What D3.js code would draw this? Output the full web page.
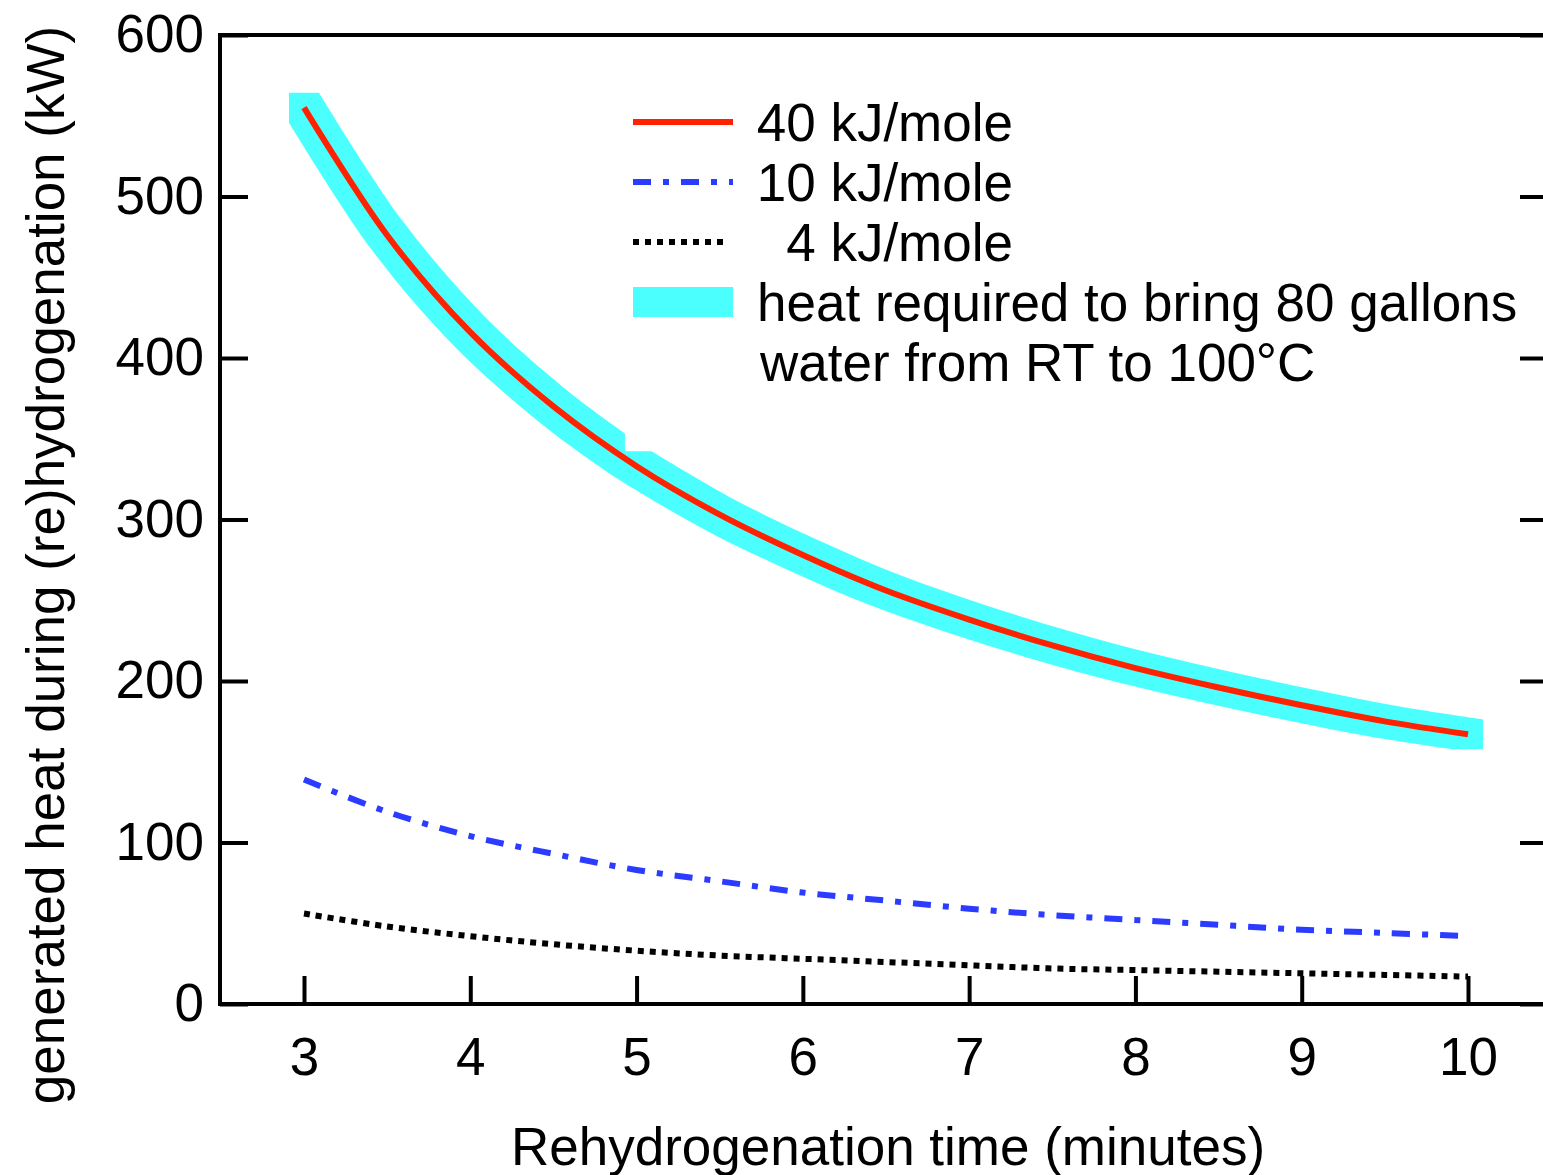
<!DOCTYPE html>
<html>
<head>
<meta charset="utf-8">
<script src="https://cdn.jsdelivr.net/npm/d3@7"></script>
<style>
  body { margin: 0; background: #fff; }
  svg { display: block; font-family: "Liberation Sans", Arial, sans-serif; }
</style>
</head>
<body>
<div id="chart"></div>
<script>
// time (minutes) and generated heat (kW)
const times = [3, 3.5, 4, 4.5, 5, 5.5, 6, 6.5, 7, 7.5, 8, 8.5, 9, 9.5, 10];
const heat40 = [555, 476, 416, 370, 333, 303, 278, 256, 238, 222, 208, 196, 185, 175, 167];
const heat10 = [139, 119, 104, 93, 83, 76, 69, 64, 59, 55, 52, 49, 46, 44, 42];
const heat4 = [56, 48, 42, 37, 33, 30, 28, 26, 24, 22, 21, 20, 19, 18, 17];

// the water-heating band, in two pieces (notch on top near 5 min)
const waterTimesA = [3, 3.5, 4, 4.5, 4.84];
const waterHeatA = [555, 476, 416, 370, 344];
const waterTimesB = [5, 5.5, 6, 6.5, 7, 7.5, 8, 8.5, 9, 9.5, 10];
const waterHeatB = [333, 303, 278, 256, 238, 222, 208, 196, 185, 175, 167];

const xTicks = [3, 4, 5, 6, 7, 8, 9, 10];
const yTicks = [0, 100, 200, 300, 400, 500, 600];

const legendLabels = ["40 kJ/mole", "10 kJ/mole", "4 kJ/mole", "heat required to bring 80 gallons", "water from RT to 100°C"];

const width = 1543, height = 1175;
const mLeft = 220, mRight = 1548, mTop = 35, mBottom = 1004;
const fontSize = "53px";

const svg = d3.select("#chart").append("svg")
    .attr("width", width)
    .attr("height", height);

const x = d3.scaleLinear().domain([3, 10]).range([304, 1468]);
const y = d3.scaleLinear().domain([0, 600]).range([mBottom, mTop]);

const line = d3.line()
    .x(d => x(d[0]))
    .y(d => y(d[1]))
    .curve(d3.curveCatmullRom);

// band = 30x30 square pen dragged along the curve
const h = 15;
const edge = d3.line().curve(d3.curveCatmullRom);
function toPx(ts, vs){ return ts.map((t, i) => [x(t), y(vs[i])]); }
function shift(pts, dx, dy){ return pts.map(p => [p[0] + dx, p[1] + dy]); }

function bandPath(){
    const a = toPx(waterTimesA, waterHeatA);
    const b = toPx(waterTimesB, waterHeatB);
    const all = a.concat(b);
    const a0 = a[0], aN = a[a.length - 1], b0 = b[0], bN = b[b.length - 1];
    return `M${a0[0] - h},${a0[1] - h}` +
        "L" + edge(shift(a, h, -h)).slice(1) +
        `L${aN[0] + h},${b0[1] - h}` +
        "L" + edge(shift(b, h, -h)).slice(1) +
        `L${bN[0] + h},${bN[1] + h}` +
        "L" + edge(shift(all, -h, h).reverse()).slice(1) +
        `L${a0[0] - h},${a0[1] + h}Z`;
}

svg.append("path").attr("d", bandPath()).attr("fill", "#4cffff");

svg.append("path")
    .datum(times.map((t, i) => [t, heat40[i]]))
    .attr("d", line)
    .attr("fill", "none")
    .attr("stroke", "#ff2200")
    .attr("stroke-width", 6);

svg.append("path")
    .datum(times.map((t, i) => [t, heat10[i]]))
    .attr("d", line)
    .attr("fill", "none")
    .attr("stroke", "#2b3bff")
    .attr("stroke-width", 6)
    .attr("stroke-dasharray", "18,12,6,12");

svg.append("path")
    .datum(times.map((t, i) => [t, heat4[i]]))
    .attr("d", line)
    .attr("fill", "none")
    .attr("stroke", "#000")
    .attr("stroke-width", 6)
    .attr("stroke-dasharray", "6,6");

// axes
const xAxis = svg.append("g")
    .attr("transform", `translate(0,${mBottom})`)
    .call(d3.axisBottom(x).tickValues(xTicks).tickFormat(d3.format("d"))
        .tickSize(-28).tickSizeOuter(0).tickPadding(33));

const yAxis = svg.append("g")
    .attr("transform", `translate(${mLeft},0)`)
    .call(d3.axisLeft(y).tickValues(yTicks).tickSize(-28).tickSizeOuter(0).tickPadding(16));

const yAxisR = svg.append("g")
    .attr("transform", `translate(${mRight},0)`)
    .call(d3.axisRight(y).tickValues(yTicks).tickSize(-28).tickSizeOuter(0).tickFormat(""));

[xAxis, yAxis, yAxisR].forEach(g => {
    g.select(".domain").remove();
    g.selectAll("line").attr("stroke", "#000").attr("stroke-width", 4);
    g.selectAll("text")
        .attr("fill", "#000")
        .style("font-size", fontSize)
        .style("font-family", "'Liberation Sans', Arial, sans-serif");
});

svg.append("rect")
    .attr("x", mLeft).attr("y", mTop)
    .attr("width", mRight - mLeft).attr("height", mBottom - mTop)
    .attr("fill", "none")
    .attr("stroke", "#000")
    .attr("stroke-width", 4);

svg.append("text")
    .attr("x", 888)
    .attr("y", 1165)
    .attr("text-anchor", "middle")
    .style("font-size", fontSize)
    .text("Rehydrogenation time (minutes)");

svg.append("text")
    .attr("transform", "translate(64,565) rotate(-90)")
    .attr("text-anchor", "middle")
    .style("font-size", fontSize)
    .text("generated heat during (re)hydrogenation (kW)");

// legend
const lg = svg.append("g");
const swX0 = 633, swX1 = 733;
const rowY = [122, 182, 242, 302];
lg.append("line").attr("x1", swX0).attr("x2", swX1).attr("y1", rowY[0]).attr("y2", rowY[0])
    .attr("stroke", "#ff2200").attr("stroke-width", 6);
lg.append("line").attr("x1", swX0).attr("x2", swX1).attr("y1", rowY[1]).attr("y2", rowY[1])
    .attr("stroke", "#2b3bff").attr("stroke-width", 6).attr("stroke-dasharray", "18,12,6,12");
lg.append("line").attr("x1", swX0).attr("x2", swX1 - 8).attr("y1", rowY[2]).attr("y2", rowY[2])
    .attr("stroke", "#000").attr("stroke-width", 6).attr("stroke-dasharray", "6,6");
lg.append("rect").attr("x", swX0).attr("y", rowY[3] - 15).attr("width", swX1 - swX0).attr("height", 30)
    .attr("fill", "#4cffff");

legendLabels.forEach((t, i) => {
    const txt = lg.append("text")
        .attr("y", 141 + i * 60)
        .style("font-size", fontSize)
        .text(t);
    if (i < 3) txt.attr("x", 1013).attr("text-anchor", "end");
    else txt.attr("x", i === 3 ? 757 : 760);
});
</script>
</body>
</html>
